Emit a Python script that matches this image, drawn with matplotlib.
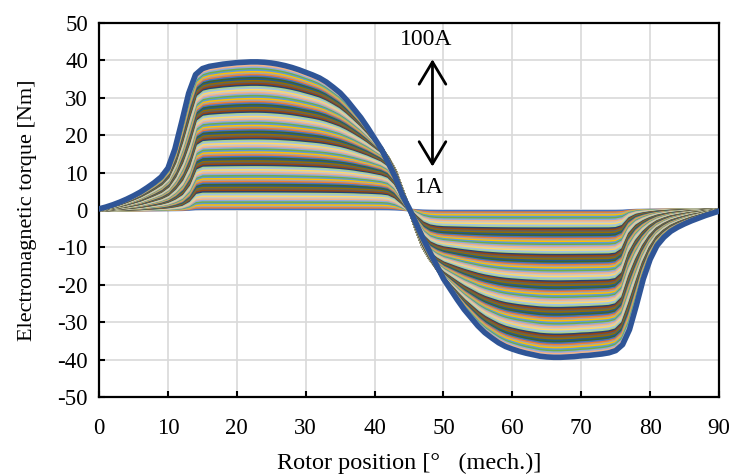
import colorsys
import numpy as np
import matplotlib
matplotlib.use('Agg')
import matplotlib.pyplot as plt

plt.rcParams['font.family'] = ['Liberation Serif', 'DejaVu Serif']
plt.rcParams['axes.unicode_minus'] = False

# rotor position, 1 deg mech. steps
position = np.arange(0, 91)

# torque at the highest current (100 A), Nm
torque_100a = [
    0.3, 0.8, 1.4, 2.1, 2.9, 3.8, 4.8, 6.0, 7.3, 8.8,
    11.2, 16.3, 23.6, 31.2, 36.2, 37.8, 38.4, 38.7, 39.0, 39.2,
    39.4, 39.5, 39.6, 39.6, 39.5, 39.3, 39.0, 38.6, 38.1, 37.5,
    36.8, 36.1, 35.3, 34.2, 32.8, 31.3, 29.3, 27.0, 24.7, 22.0,
    19.1, 16.2, 12.5, 8.8, 4.0, 0.5, -3.5, -7.5, -11.2, -14.8,
    -18.4, -21.2, -24.0, -26.6, -28.8, -31.0, -32.8, -34.2, -35.5, -36.5,
    -37.2, -37.8, -38.3, -38.7, -39.1, -39.3, -39.4, -39.4, -39.3, -39.2,
    -39.0, -38.9, -38.7, -38.5, -38.2, -37.6, -36.0, -32.0, -25.5, -18.5,
    -13.2, -9.5, -7.3, -5.7, -4.6, -3.7, -2.9, -2.2, -1.5, -0.9,
    -0.3,
]

# normalised torque profile of the unsaturated (low current) curves
shape_low = [
    0.0, 0.01, 0.02, 0.03, 0.04, 0.05, 0.06, 0.08, 0.10, 0.12,
    0.15, 0.19, 0.25, 0.45, 0.92, 1.0, 1.0, 1.0, 1.0, 1.0,
    1.0, 1.0, 1.0, 1.0, 1.0, 1.0, 1.0, 1.0, 1.0, 1.0,
    1.0, 1.0, 1.0, 1.0, 1.0, 1.0, 1.0, 1.0, 0.99, 0.99,
    0.98, 0.97, 0.93, 0.75, 0.42, 0.02, -0.4, -0.75, -0.92, -0.98,
    -1.0, -1.0, -1.0, -1.0, -1.0, -1.0, -1.0, -1.0, -1.0, -1.0,
    -1.0, -1.0, -1.0, -1.0, -1.0, -1.0, -1.0, -1.0, -1.0, -1.0,
    -1.0, -1.0, -1.0, -1.0, -1.0, -0.98, -0.85, -0.4, -0.22, -0.16,
    -0.12, -0.09, -0.07, -0.05, -0.04, -0.03, -0.02, -0.02, -0.01, -0.01,
    0.0,
]
plateau_low = 39.0

currents = np.arange(1, 101)  # A

# office style series colours
base_colors = ['#4472C4', '#ED7D31', '#A5A5A5', '#FFC000', '#5B9BD5', '#70AD47']
lum_steps = [(1.0, 0.0), (0.6, 0.4), (0.58, 0.0)]


def shade(hex_color, mod, off):
    r, g, b = [int(hex_color[k:k + 2], 16) / 255 for k in (1, 3, 5)]
    h, l, s = colorsys.rgb_to_hls(r, g, b)
    l = min(1.0, l * mod + off)
    return colorsys.hls_to_rgb(h, l, s)


colors = []
for i in range(len(currents)):
    mod, off = lum_steps[(i // 6) % len(lum_steps)]
    colors.append(shade(base_colors[i % 6], mod, off))

fig, ax = plt.subplots(figsize=(7.34, 4.76), dpi=100)
fig.subplots_adjust(left=0.135, right=0.9796, top=0.9517, bottom=0.166)

t100 = np.array(torque_100a)
low = np.array(shape_low)
for i, cur in enumerate(currents):
    s = cur / currents[-1]
    torque = s * ((1 - s) * plateau_low * low + s * t100)
    if cur == currents[-1]:
        ax.plot(position, torque, color='#2F5597', lw=4.0, zorder=3)
    else:
        ax.plot(position, torque, color=colors[i], lw=2.2, zorder=2)

ax.annotate('', xy=(48.4, 40.3), xytext=(48.4, 11.6),
            arrowprops=dict(arrowstyle='<->,head_length=0.8,head_width=0.48',
                            lw=2, color='black', mutation_scale=20,
                            shrinkA=0, shrinkB=0), zorder=4)
ax.text(47.5, 45.7, '100A', ha='center', va='center', fontsize=17, zorder=4)
ax.text(47.9, 5.9, '1A', ha='center', va='center', fontsize=17, zorder=4)

ax.set_xlim(0, 90)
ax.set_ylim(-50, 50)
ax.set_xticks(np.arange(0, 91, 10))
ax.set_yticks(np.arange(-50, 51, 10))
ax.grid(True, color='#D9D9D9', lw=1.2, zorder=0)
ax.set_axisbelow(True)
for sp in ax.spines.values():
    sp.set_linewidth(1.6)
    sp.set_color('black')
ax.tick_params(direction='in', length=4, width=1.5, labelsize=16.5)
ax.tick_params(axis='x', pad=15)
ax.tick_params(axis='y', pad=8)

ax.set_xlabel('Rotor position [°   (mech.)]', fontsize=17.5, labelpad=10)
ax.set_ylabel('Electromagnetic torque [Nm]', fontsize=16, labelpad=15)

fig.savefig('out.png', dpi=100)
